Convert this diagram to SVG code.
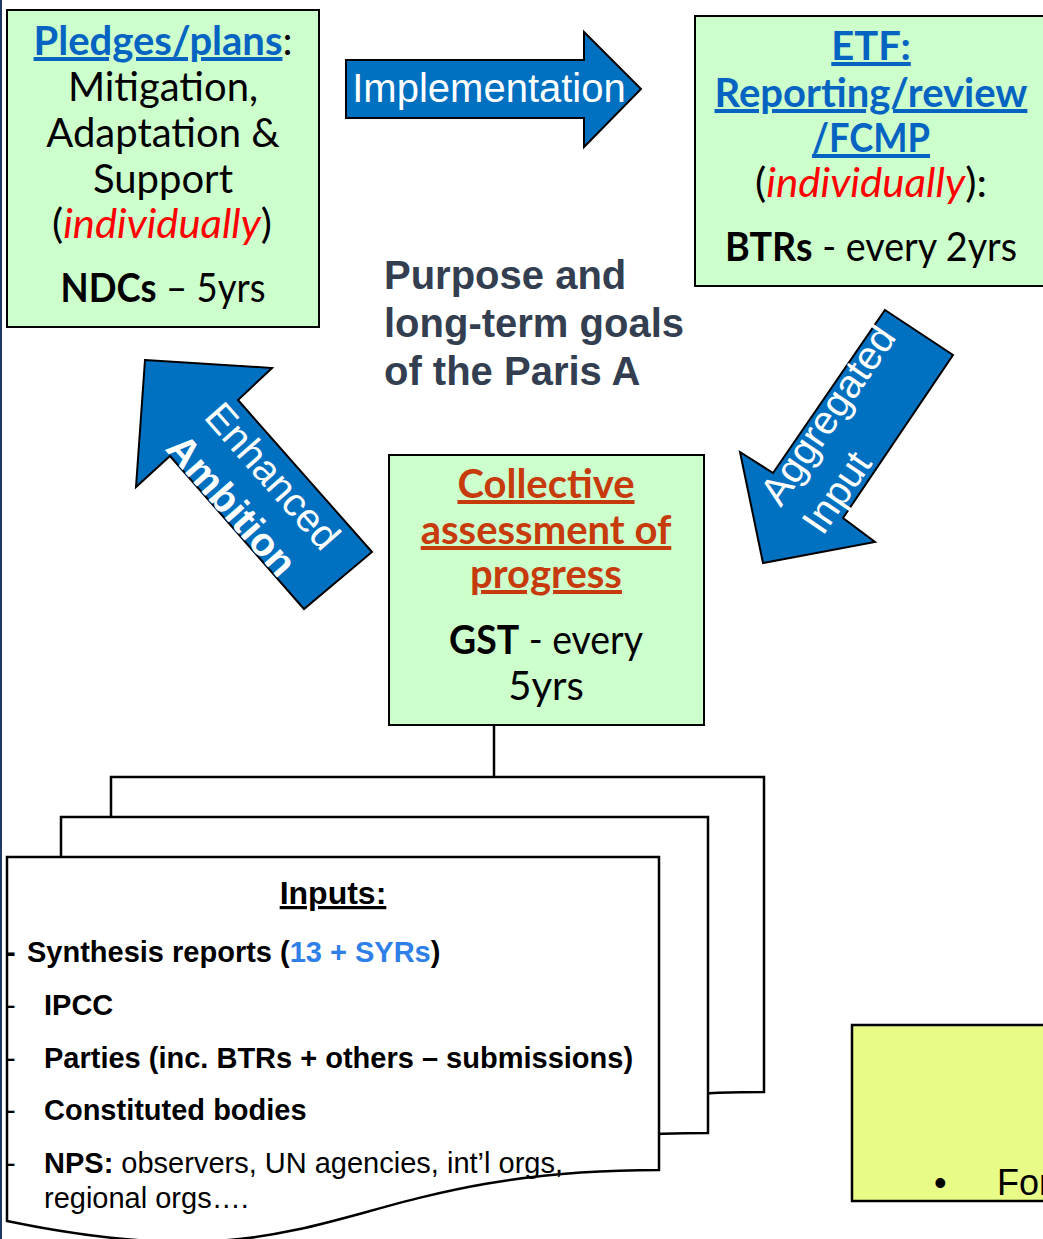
<svg xmlns="http://www.w3.org/2000/svg" width="1043" height="1239" viewBox="0 0 1043 1239">
<style>
.box{fill:#ccffcc;stroke:#000;stroke-width:2}
.page{fill:#fff;stroke:#000;stroke-width:2.5}
.barrow{fill:#0070c0;stroke:#000;stroke-width:2;stroke-linejoin:miter}
.cal{font-family:Lato,"Open Sans","DejaVu Sans",sans-serif;font-size:40px;fill:#000}
.link{font-weight:bold;fill:#0563c1;text-decoration:underline}
.red{font-weight:bold;fill:#c63a0c;text-decoration:underline}
.ital{font-style:italic;fill:#ff0000}
.b{font-weight:bold}
.arr{font-family:"Liberation Sans",Arial,sans-serif;font-size:40px;fill:#fff}
.ctr{font-family:"Liberation Sans",Arial,sans-serif;font-size:40px;font-weight:bold;fill:#333f50}
.inp{font-family:"Liberation Sans",Arial,sans-serif;font-size:29px;fill:#000}
.line{fill:none;stroke:#000;stroke-width:2.5}
</style>
<rect x="0" y="0" width="1043" height="1239" fill="#fff"/>
<line x1="1" y1="0" x2="1" y2="1239" stroke="#1f3864" stroke-width="2"/>

<g id="node-pledges">
<rect class="box" x="7" y="10" width="312" height="317"/>
<text class="cal" text-anchor="middle" x="163" y="55"><tspan class="link">Pledges/plans</tspan>:</text>
<text class="cal" text-anchor="middle" x="163" y="101">Mitigation,</text>
<text class="cal" text-anchor="middle" x="163" y="147">Adaptation &amp;</text>
<text class="cal" text-anchor="middle" x="163" y="193">Support</text>
<text class="cal" text-anchor="middle" x="162" y="238" textLength="220" lengthAdjust="spacingAndGlyphs">(<tspan class="ital">individually</tspan>)</text>
<text class="cal" text-anchor="middle" x="163" y="302" textLength="205" lengthAdjust="spacingAndGlyphs"><tspan class="b">NDCs</tspan> – 5yrs</text>
</g>

<g id="node-etf">
<rect class="box" x="695" y="16" width="360" height="270"/>
<text class="cal" text-anchor="middle" x="871" y="60"><tspan class="link">ETF:</tspan></text>
<text class="cal" text-anchor="middle" x="871" y="107"><tspan class="link">Reporting/review</tspan></text>
<text class="cal" text-anchor="middle" x="871" y="152" textLength="118" lengthAdjust="spacingAndGlyphs"><tspan class="link">/FCMP</tspan></text>
<text class="cal" text-anchor="middle" x="871" y="197" textLength="232" lengthAdjust="spacingAndGlyphs">(<tspan class="ital">individually</tspan>):</text>
<text class="cal" text-anchor="middle" x="871" y="261" textLength="292" lengthAdjust="spacingAndGlyphs"><tspan class="b">BTRs</tspan> - every 2yrs</text>
</g>

<g id="node-purpose">
<text class="ctr" x="384" y="289">Purpose and</text>
<text class="ctr" x="384" y="337">long-term goals</text>
<text class="ctr" x="384" y="385">of the Paris A</text>
</g>

<g id="node-gst">
<rect class="box" x="389" y="455" width="315" height="270"/>
<text class="cal" text-anchor="middle" x="546" y="498"><tspan class="red">Collective</tspan></text>
<text class="cal" text-anchor="middle" x="546" y="544"><tspan class="red">assessment of</tspan></text>
<text class="cal" text-anchor="middle" x="546" y="588"><tspan class="red">progress</tspan></text>
<text class="cal" text-anchor="middle" x="546" y="654" textLength="194" lengthAdjust="spacingAndGlyphs"><tspan class="b">GST</tspan> - every</text>
<text class="cal" text-anchor="middle" x="546" y="700">5yrs</text>
</g>

<g id="node-inputs">
<path class="page" d="M111,777 H764 V1092 C437,1092 437,1211 111,1144 Z"/>
<path class="page" d="M61,817 H708 V1133 C385,1133 385,1253 61,1185 Z"/>
<path class="page" d="M7,857 H659 V1170 C333,1170 333,1289 7,1221 Z"/>
<text class="inp b" text-anchor="middle" x="333" y="904" style="font-size:32px;text-decoration:underline">Inputs:</text>
<text class="inp b" x="6" y="962">-</text>
<text class="inp b" x="27" y="962">Synthesis reports (<tspan fill="#2e7fe8">13 + SYRs</tspan>)</text>
<text class="inp" x="6" y="1015">-</text>
<text class="inp b" x="44" y="1015">IPCC</text>
<text class="inp" x="6" y="1068">-</text>
<text class="inp b" x="44" y="1068">Parties (inc. BTRs + others – submissions)</text>
<text class="inp" x="6" y="1120">-</text>
<text class="inp b" x="44" y="1120">Constituted bodies</text>
<text class="inp" x="6" y="1173">-</text>
<text class="inp" x="44" y="1173"><tspan class="b">NPS:</tspan> observers, UN agencies, int’l orgs,</text>
<text class="inp" x="44" y="1208">regional orgs….</text>
</g>

<g id="node-note">
<rect x="852" y="1025" width="200" height="176" fill="#e9fb87" stroke="#000" stroke-width="2.5"/>
<text x="934" y="1195" font-family="Liberation Sans,Arial,sans-serif" font-size="36">•</text>
<text x="997" y="1195" font-family="Liberation Sans,Arial,sans-serif" font-size="36">For</text>
</g>

<g id="connectors">
<line class="line" x1="494" y1="725" x2="494" y2="777"/>
<g id="arrow-implementation">
<polygon class="barrow" points="346,60 584,60 584,32 641,89 584,147 584,118 346,118"/>
<text class="arr" text-anchor="middle" x="489" y="102">Implementation</text>
</g>
<g id="arrow-ambition">
<polygon class="barrow" points="145,360 272,368 238,400 372,552 304,609 170,456 136,487"/>
<g transform="translate(271,504) rotate(48.6)">
<text class="arr" text-anchor="middle" x="-20" y="-6">Enhanced</text>
<text class="arr b" text-anchor="middle" x="-25" y="44">Ambition</text>
</g>
</g>
<g id="arrow-aggregated">
<polygon class="barrow" points="885,310 953,355 843,518 875,542 763,563 740,452 773,473"/>
<g transform="translate(863,414) rotate(-55.7)">
<text class="arr" x="-124" y="-15">Aggregated</text>
<text class="arr" x="-124" y="36">Input</text>
</g>
</g>
</g>
</svg>
